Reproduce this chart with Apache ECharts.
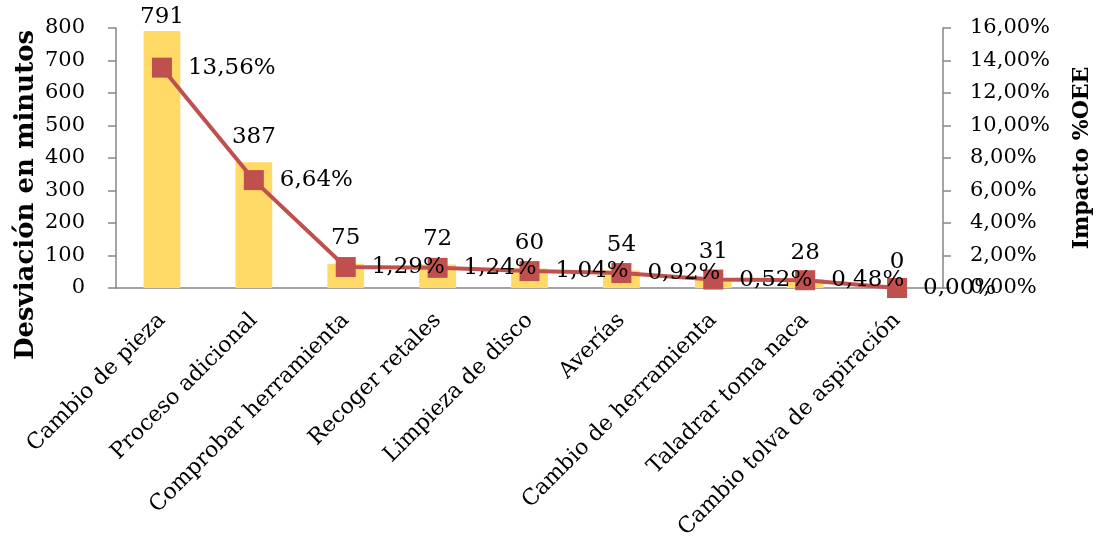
<!DOCTYPE html>
<html>
<head>
<meta charset="utf-8">
<script src="https://cdn.jsdelivr.net/npm/echarts@6/dist/echarts.min.js"></script>
<style>
  html, body { margin: 0; padding: 0; background: #fff; }
  #chart { width: 1098px; height: 541px; }
</style>
</head>
<body>
<div id="chart"></div>
<script>
// Downtime causes, minutes lost and their OEE impact
const categories = [
  'Cambio de pieza', 'Proceso adicional', 'Comprobar herramienta', 'Recoger retales',
  'Limpieza de disco', 'Averías', 'Cambio de herramienta', 'Taladrar toma naca',
  'Cambio tolva de aspiración'
];
const minutes = [791, 387, 75, 72, 60, 54, 31, 28, 0];
const impactPct = [13.56, 6.64, 1.29, 1.24, 1.04, 0.92, 0.52, 0.48, 0.00];

const FONT = 'DejaVu Serif';
const MIN_MAX = 800;
const pct = v => v.toFixed(2).replace('.', ',') + '%';

// bar labels near the top edge are pulled in so they stay inside the canvas
const barData = minutes.map(v => ({
  value: v,
  label: { distance: v > MIN_MAX * 0.94 ? 2 : 14 }
}));

const axisGray = { color: '#868686', width: 1.5 };

const chart = echarts.init(document.getElementById('chart'));
chart.setOption({
  animation: false,
  grid: { left: 116, right: 155, top: 28, bottom: 253, containLabel: false, outerBoundsMode: 'none' },
  xAxis: {
    type: 'category',
    data: categories,
    axisLine: { lineStyle: axisGray },
    axisTick: { length: 8, lineStyle: axisGray },
    axisLabel: { rotate: 45, color: '#000', fontFamily: FONT, fontSize: 22, margin: 29, interval: 0 }
  },
  yAxis: [
    {
      type: 'value', min: 0, max: MIN_MAX, interval: 100,
      splitLine: { show: false },
      axisLine: { show: true, lineStyle: axisGray },
      axisTick: { show: true, length: 8, lineStyle: axisGray },
      axisLabel: { color: '#000', fontFamily: FONT, fontSize: 21, margin: 31 }
    },
    {
      type: 'value', min: 0, max: 16, interval: 2, position: 'right',
      splitLine: { show: false },
      axisLine: { show: true, lineStyle: axisGray },
      axisTick: { show: true, length: 8, lineStyle: axisGray },
      axisLabel: { color: '#000', fontFamily: FONT, fontSize: 21, margin: 27, formatter: pct }
    }
  ],
  graphic: [
    {
      type: 'text', x: 26, y: 195, rotation: Math.PI / 2,
      style: { text: 'Desviación en minutos', font: 'bold 26px "DejaVu Serif"', fill: '#000',
               align: 'center', verticalAlign: 'middle' }
    },
    {
      type: 'text', x: 1082, y: 158, rotation: Math.PI / 2,
      style: { text: 'Impacto %OEE', font: 'bold 22px "DejaVu Serif"', fill: '#000',
               align: 'center', verticalAlign: 'middle' }
    }
  ],
  series: [
    {
      type: 'bar',
      data: barData,
      barWidth: '40%',
      itemStyle: { color: '#FFDA66' },
      label: { show: true, position: 'top', color: '#000', fontFamily: FONT, fontSize: 23 }
    },
    {
      type: 'line',
      yAxisIndex: 1,
      data: impactPct,
      z: 5,
      symbol: 'rect',
      symbolSize: 20,
      lineStyle: { color: '#C0504D', width: 4 },
      itemStyle: { color: '#C0504D' },
      label: {
        show: true, position: 'right', distance: 16, color: '#000',
        fontFamily: FONT, fontSize: 23,
        formatter: p => pct(p.value)
      }
    }
  ]
});
</script>
</body>
</html>
